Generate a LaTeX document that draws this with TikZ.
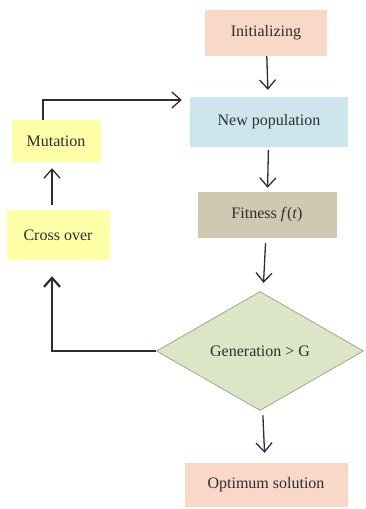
\documentclass[tikz,border=0pt]{standalone}
\usepackage{fontspec}
\setmainfont{Liberation Serif}
\usepackage{tikz}
\usepackage{xcolor}
\usetikzlibrary{arrows.meta, positioning, shapes.geometric}

\definecolor{peach}{RGB}{249,216,200}
\definecolor{paleblue}{RGB}{205,230,238}
\definecolor{khaki}{RGB}{208,200,176}
\definecolor{palegreen}{RGB}{220,230,198}
\definecolor{palelime}{RGB}{156,170,140}
\definecolor{paleyellow}{RGB}{255,255,168}
\definecolor{ink}{RGB}{45,45,45}

\begin{document}
\begin{tikzpicture}[
    x=1pt, y=-1pt,
    font=\fontsize{16}{19}\selectfont,
    box/.style={rectangle, inner sep=0pt, text=ink},
    decision/.style={diamond, draw=palelime, fill=palegreen, thick, aspect=1.74, inner sep=0pt, text=ink},
    arrow/.style={-{Straight Barb[length=9pt, width=16pt]}, line width=1.3pt, draw=ink}
]
    \useasboundingbox (0,0) rectangle (366,509);

    % Blocks
    \node[box, fill=peach, minimum width=122pt, minimum height=46pt] (init) at (266,33) {Initializing};
    \node[box, fill=paleblue, minimum width=158pt, minimum height=50pt] (newpop) at (269,122) {New population};
    \node[box, fill=khaki, minimum width=139pt, minimum height=46pt] (fitness) at (267,215) {Fitness \textit{f}(\textit{t})};
    \node[decision, minimum width=207pt, minimum height=119pt] (gen) at (260,351) {Generation > G};
    \node[box, fill=peach, minimum width=163pt, minimum height=44pt] (optimum) at (266,485) {Optimum solution};
    \node[box, fill=paleyellow, minimum width=89pt, minimum height=42pt] (mutation) at (56,141) {Mutation};
    \node[box, fill=paleyellow, minimum width=103pt, minimum height=50pt] (cross) at (58,235) {Cross over};

    % Connections
    \draw[arrow, shorten >=7pt] (init) -- (newpop);
    \draw[arrow, shorten <=3pt, shorten >=4pt] (newpop) -- (fitness);
    \draw[arrow, shorten <=5pt, shorten >=10pt] (fitness) -- (gen);
    \draw[arrow, shorten <=6pt, shorten >=10pt] (gen) -- (optimum);
    \draw[arrow, line width=2.2pt, shorten >=16pt] (gen.west) -| ([xshift=-6pt]cross.south);
    \draw[arrow, shorten <=5pt, shorten >=6pt] ([xshift=-6pt]cross.north) -- ([xshift=-6pt]cross.north |- mutation.south);
    \draw[arrow, shorten >=8pt] ([xshift=-13pt]mutation.north) |- ([yshift=22pt]newpop.west);
\end{tikzpicture}
\end{document}
